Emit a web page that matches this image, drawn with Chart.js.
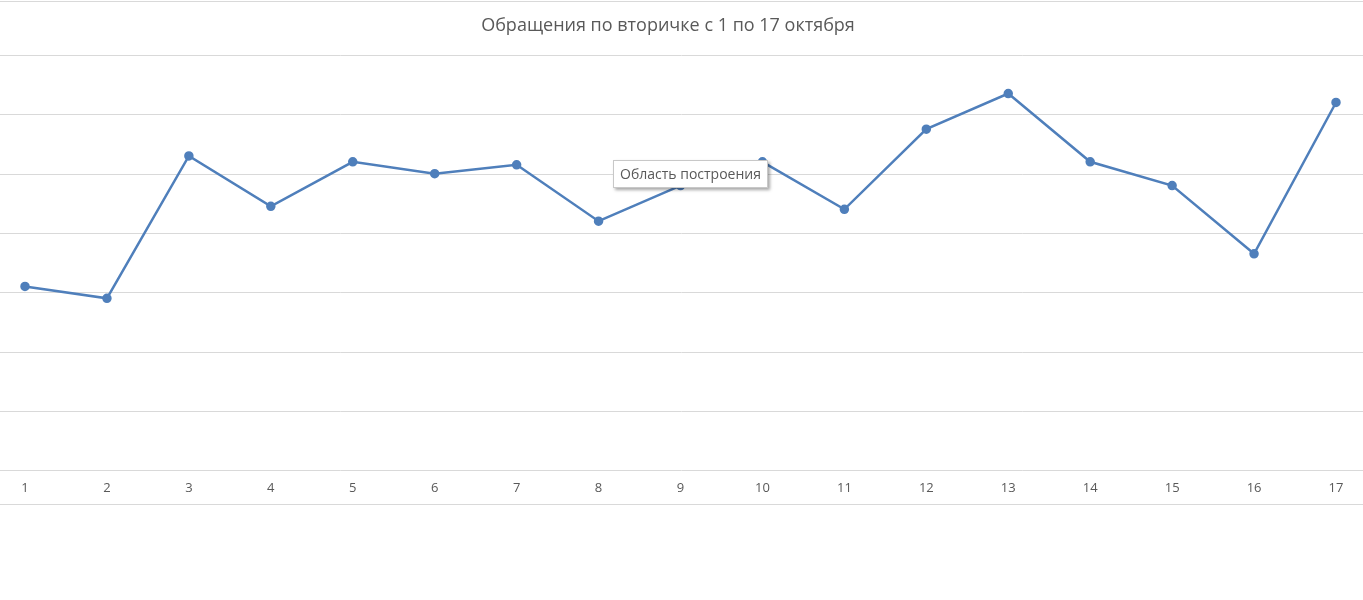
<!DOCTYPE html>
<html lang="ru">
<head>
<meta charset="utf-8">
<title>Обращения по вторичке</title>
<script src="https://cdn.jsdelivr.net/npm/chart.js@4.4.1/dist/chart.umd.min.js"></script>
<style>
    html, body { margin: 0; padding: 0; background: #fff; }
    #wrap { position: relative; width: 1363px; height: 600px; overflow: hidden; }
    #chart { position: absolute; left: 0; top: 0; }
    .frame { position: absolute; left: 0; width: 1363px; height: 0; border-top: 1px solid #d9d9d9; }
    #title {
        position: absolute; left: 0; top: 12px; width: 1336px; text-align: center;
        font-family: "Open Sans", "Noto Sans", sans-serif; font-size: 18px; color: #595959;
    }
    #hint {
        position: absolute; left: 613px; top: 160px; padding: 3px 6px 4px 6px;
        font-family: "Open Sans", "Noto Sans", sans-serif; font-size: 14px; color: #595959;
        background: #fff; border: 1px solid #c8c8c8; box-shadow: 2px 2px 3px rgba(0,0,0,0.35);
        white-space: nowrap;
    }
</style>
</head>
<body>
<div id="wrap">
    <canvas id="chart" width="1363" height="600"></canvas>
    <div class="frame" style="top:1px"></div>
    <div class="frame" style="top:504px"></div>
    <div id="title">Обращения по вторичке с 1 по 17 октября</div>
    <div id="hint">Область построения</div>
</div>

<script>
// days of October
const days = ['1', '2', '3', '4', '5', '6', '7', '8', '9', '10', '11', '12', '13', '14', '15', '16', '17'];

// calls per day
const calls = [31, 29, 53, 44.5, 52, 50, 51.5, 42, 48, 52, 44, 57.5, 63.5, 52, 48, 36.5, 62];

// horizontal gridline values
const yTicks = [0, 10, 20, 30, 40, 50, 60, 70];

/**
 * Draw gridlines across the whole width, like the Excel plot area
 */
const fullGrid = {
    id: 'fullGrid',
    beforeDatasetsDraw(chart) {
        const ctx = chart.ctx;
        const y = chart.scales.y;
        ctx.save();
        ctx.strokeStyle = '#d9d9d9';
        ctx.lineWidth = 1;
        yTicks.forEach(function(v) {
            const py = Math.round(y.getPixelForValue(v)) + 0.5;
            ctx.beginPath();
            ctx.moveTo(0, py);
            ctx.lineTo(chart.width, py);
            ctx.stroke();
        });
        ctx.restore();
    }
};

const ctx = document.getElementById('chart').getContext('2d');
new Chart(ctx, {
    type: 'line',
    data: {
        labels: days,
        datasets: [{
            label: 'Обращения',
            data: calls,
            borderColor: '#4f7fbb',
            backgroundColor: '#4f7fbb',
            borderWidth: 2.5,
            pointRadius: 3.5,
            pointHoverRadius: 3.5,
            tension: 0
        }]
    },
    options: {
        responsive: false,
        animation: false,
        layout: { padding: { left: 25, right: 27, top: 55, bottom: 102 } },
        plugins: {
            legend: { display: false },
            tooltip: { enabled: false },
            title: { display: false }
        },
        scales: {
            x: {
                offset: false,
                grid: { display: false },
                border: { display: false },
                ticks: {
                    color: '#595959',
                    padding: 2,
                    maxRotation: 0,
                    autoSkip: false,
                    font: { family: '"Open Sans", "Noto Sans", sans-serif', size: 13 }
                }
            },
            y: {
                display: false,
                min: 0,
                max: 70,
                ticks: { stepSize: 10 }
            }
        }
    },
    plugins: [fullGrid]
});
</script>
</body>
</html>
